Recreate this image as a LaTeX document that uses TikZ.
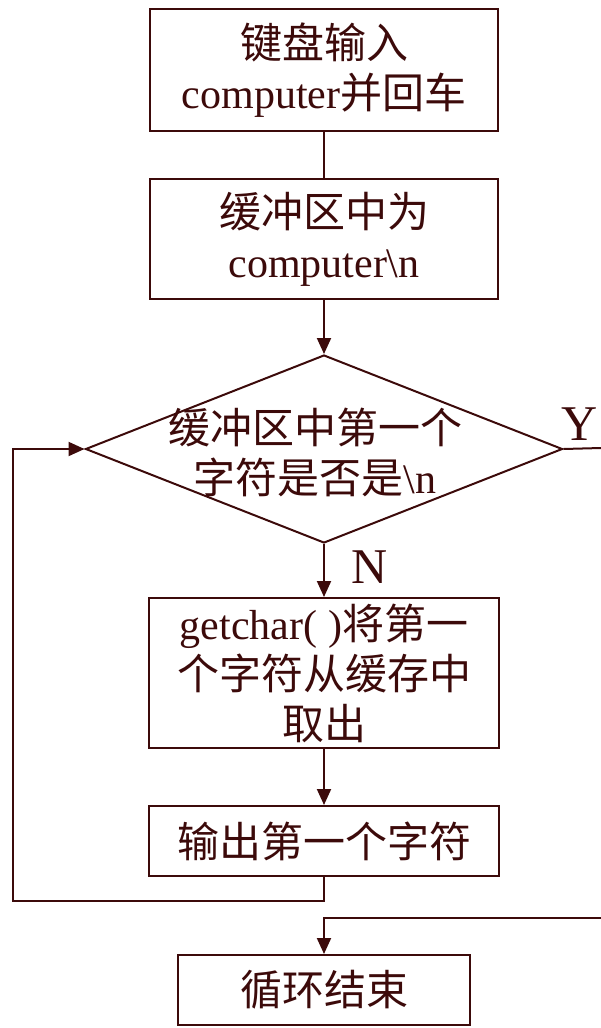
\documentclass[tikz,border=0pt]{standalone}
\usepackage{fontspec}
\setmainfont{Liberation Serif}
\newfontfamily\cjk{Noto Sans CJK SC}
\usetikzlibrary{shapes.geometric,arrows.meta}
\definecolor{ink}{RGB}{60,10,10}
\begin{document}
\begin{tikzpicture}[x=1pt,y=-1pt,
  every node/.style={text=ink,font=\fontsize{42}{50}\selectfont},
  box/.style={draw=ink,line width=2pt,rectangle,inner sep=0pt,align=center},
  conn/.style={draw=ink,line width=2pt},
  arr/.style={conn,-{Triangle[length=16pt,width=14pt]}},
  lab/.style={inner sep=0pt,font=\fontsize{50}{56}\selectfont}]
\useasboundingbox (0,0) rectangle (601,1028);
\node[box,minimum width=348,minimum height=122] (b1) at (324,70) {{\cjk 键盘输入}\\computer{\cjk 并回车}};
\node[box,minimum width=348,minimum height=120] (b2) at (324,239) {{\cjk 缓冲区中为}\\computer\textbackslash n};
\node[draw=ink,line width=2pt,diamond,inner sep=0pt,minimum width=477,minimum height=188] (d) at (324,449) {};
\node[align=center,inner sep=0pt] (dt) at (315,452) {{\cjk 缓冲区中第一个}\\{\cjk 字符是否是}\textbackslash n};
\node[box,minimum width=350,minimum height=150] (b3) at (324,673) {getchar( ){\cjk 将第一}\\{\cjk 个字符从缓存中}\\{\cjk 取出}};
\node[box,minimum width=350,minimum height=70] (b4) at (324,841) {\cjk 输出第一个字符};
\node[box,minimum width=292,minimum height=70] (b5) at (324,990) {\cjk 循环结束};
\node[lab] (ylab) at (580,424) {Y};
\node[lab] (nlab) at (370,567) {N};
\coordinate (lc) at (13,901);
\coordinate (ye) at (601,448);
\coordinate (yr) at (601,918);
\draw[conn] (b1.south) -- (b2.north);
\draw[arr] (b2.south) -- (d.north);
\draw[arr] (d.south) -- (b3.north);
\draw[arr] (b3.south) -- (b4.north);
\draw[arr] (b4.south) |- (lc) |- (d.west);
\draw[conn] (d.east) -- (ye);
\draw[arr] (yr) -| (b5.north);
\end{tikzpicture}
\end{document}
